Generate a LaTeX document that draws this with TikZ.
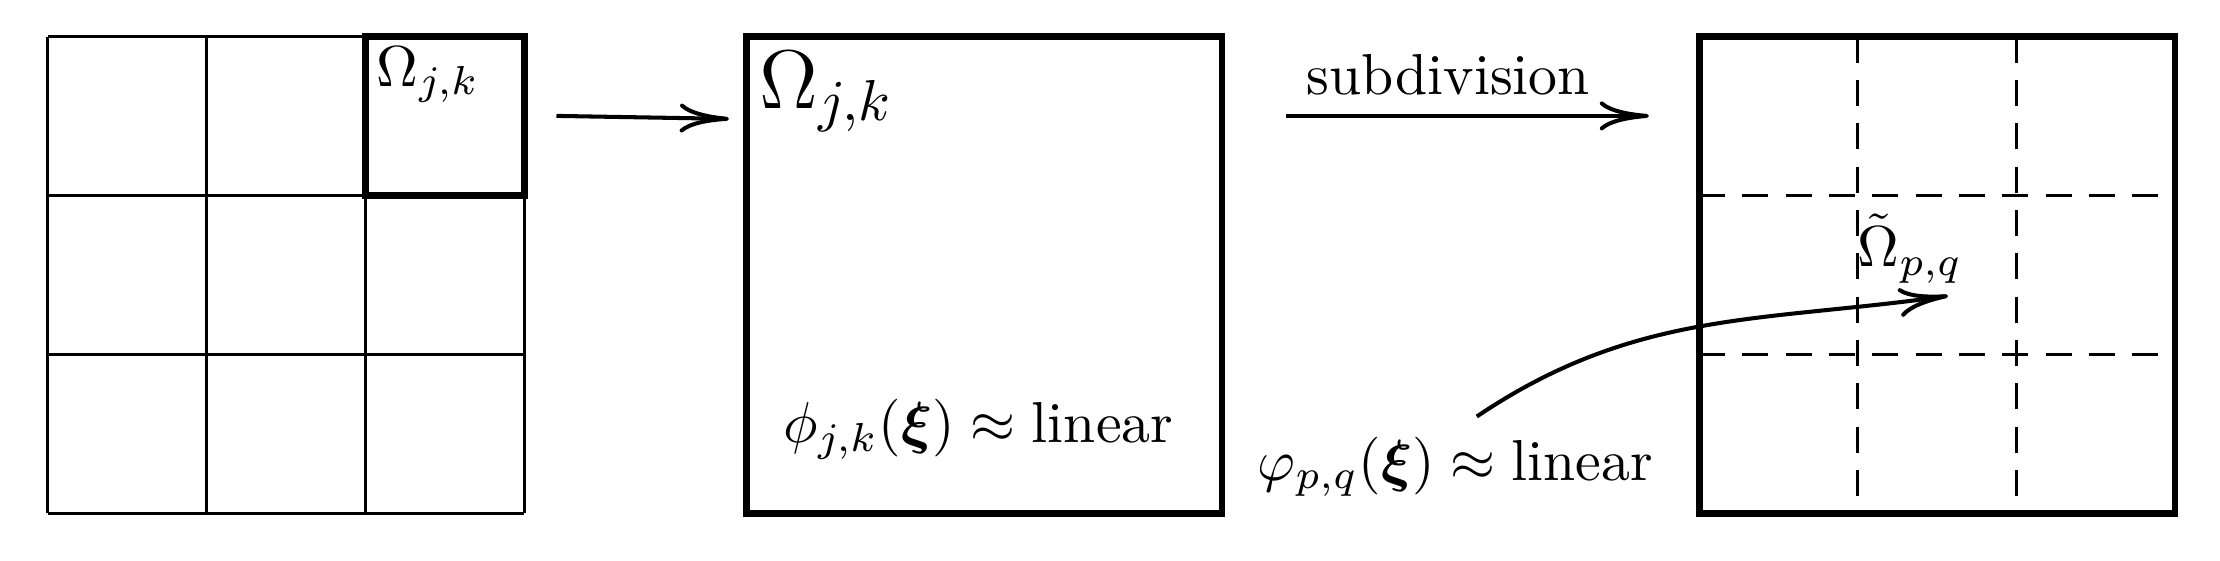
\documentclass[tikz,border=0pt]{standalone}
\usepackage{amsmath}
\usepackage{amssymb}
\usepackage{tikz}
\usetikzlibrary{arrows,arrows.meta}

\begin{document}
\begin{tikzpicture}
	\tikzstyle{cell}=[line width=0.6pt]
	\tikzstyle{patch}=[line width=1.2pt]
	\tikzstyle{subline}=[line width=0.6pt,dash pattern=on 4.5pt off 3pt]
	\tikzstyle{map}=[line width=0.7pt,-{To[length=8.5pt,width=5pt]}]
	\useasboundingbox (0,0) rectangle (13.504,3.412);
	% coarse grid
	\foreach \i in {0,1,2,3} {
		\draw[cell] ({0.29+0.9667*\i},0.29) -- ({0.29+0.9667*\i},3.19);
		\draw[cell] (0.29,{0.29+0.9667*\i}) -- (3.19,{0.29+0.9667*\i});
	}
	\draw[patch] (2.223,2.223) rectangle (3.19,3.19);
	\node[anchor=north west,inner sep=1pt] (omgrid) at (2.25,3.17) {$\Omega_{j,k}$};
	% single element
	\draw[patch] (4.538,0.29) rectangle (7.433,3.19);
	\node[anchor=north west,inner sep=1pt] (omel) at (4.58,3.14) {\Large$\Omega_{j,k}$};
	\node (phijk) at (5.95,0.80) {$\phi_{j,k}(\boldsymbol{\xi})\approx\text{linear}$};
	% subdivided element
	\draw[patch] (10.335,0.29) rectangle (13.23,3.19);
	\foreach \i in {1,2} {
		\draw[subline] ({10.335+0.965*\i},3.19) -- ({10.335+0.965*\i},0.29);
		\draw[subline] (10.335,{0.29+0.9667*\i}) -- (13.23,{0.29+0.9667*\i});
	}
	\node (omsub) at (11.62,1.90) {$\tilde{\Omega}_{p,q}$};
	\node (phipq) at (8.853,0.572) {$\varphi_{p,q}(\boldsymbol{\xi})\approx\text{linear}$};
	\node (subdiv) at (8.81,2.96) {subdivision};
	% arrows
	\coordinate (a1) at (3.385,2.707);
	\coordinate (b1) at (4.434,2.689);
	\coordinate (a2) at (7.82,2.707);
	\coordinate (b2) at (10.03,2.707);
	\coordinate (tgt) at (11.85,1.612);
	\draw[map] (a1) -- (b1);
	\draw[map] (a2) -- (b2);
	\draw[map] ([xshift=3.7pt]phipq.north) to[out=34,in=188] (tgt);
\end{tikzpicture}
\end{document}
